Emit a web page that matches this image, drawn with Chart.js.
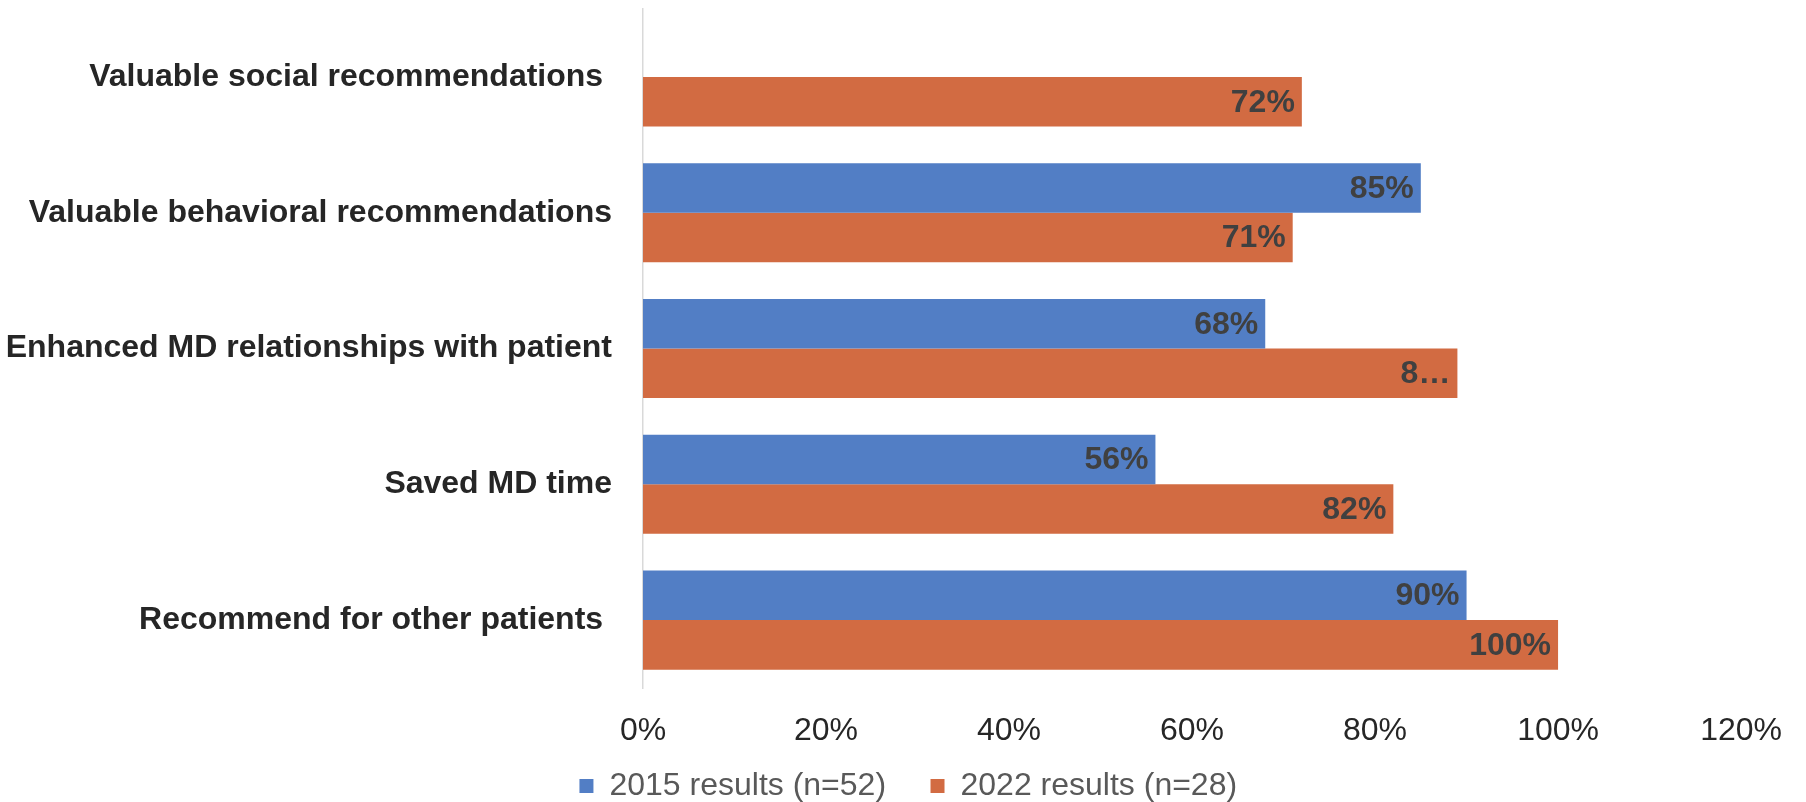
<!DOCTYPE html>
<html lang="en">
<head>
    <meta charset="UTF-8">
    <title>survey_results_chart</title>
    <script src="https://cdn.jsdelivr.net/npm/chart.js"></script>
    <style>
        body {
            margin: 0;
            background: #ffffff;
        }
        #wrap {
            width: 1806px;
            height: 802px;
        }
    </style>
</head>
<body>
    <div id="wrap"><canvas id="surveyChart"></canvas></div>

    <script>
        // data
        const categories = [
            'Valuable social recommendations ',
            'Valuable behavioral recommendations',
            'Enhanced MD relationships with patient',
            'Saved MD time',
            'Recommend for other patients '
        ];
        const results2015 = [null, 85, 68, 56, 90];
        const results2022 = [72, 71, 89, 82, 100];
        const labels2015 = ['', '85%', '68%', '56%', '90%'];
        const labels2022 = ['72%', '71%', '8…', '82%', '100%'];
        const xTicks = [0, 20, 40, 60, 80, 100, 120];

        const FONT = '"Liberation Sans", Arial, sans-serif';

        // value labels at the inner end of each bar
        const barLabels = {
            id: 'barLabels',
            afterDatasetsDraw(chart) {
                const ctx = chart.ctx;
                ctx.save();
                ctx.font = 'bold 32px ' + FONT;
                ctx.fillStyle = '#404040';
                ctx.textAlign = 'right';
                ctx.textBaseline = 'middle';
                [labels2015, labels2022].forEach((texts, d) => {
                    chart.getDatasetMeta(d).data.forEach((bar, i) => {
                        if (!texts[i]) return;
                        ctx.fillText(texts[i], bar.x - 7, bar.y + 1);
                    });
                });
                ctx.restore();
            }
        };

        const ctx = document.getElementById('surveyChart').getContext('2d');

        new Chart(ctx, {
            type: 'bar',
            data: {
                labels: categories,
                datasets: [{
                    label: '2015 results (n=52)',
                    data: results2015,
                    backgroundColor: '#527ec5',
                    borderWidth: 0
                }, {
                    label: '2022 results (n=28)',
                    data: results2022,
                    backgroundColor: '#d26b42',
                    borderWidth: 0
                }]
            },
            plugins: [barLabels],
            options: {
                indexAxis: 'y',
                responsive: true,
                maintainAspectRatio: false,
                animation: false,
                categoryPercentage: 0.73,
                barPercentage: 1,
                layout: {
                    padding: { top: 9, right: 55, left: 0, bottom: -10 }
                },
                plugins: {
                    tooltip: { enabled: false },
                    legend: {
                        position: 'bottom',
                        labels: {
                            font: { family: FONT, size: 32, lineHeight: 1 },
                            color: '#595959',
                            boxWidth: 14,
                            boxHeight: 14,
                            padding: 0,
                            generateLabels(chart) {
                                const items = Chart.defaults.plugins.legend.labels.generateLabels(chart);
                                items[0].text += '     ';
                                // invisible spacer so the legend sits under the plot like the original
                                items.unshift({
                                    text: '    ',
                                    fillStyle: 'rgba(0,0,0,0)',
                                    strokeStyle: 'rgba(0,0,0,0)',
                                    lineWidth: 0,
                                    hidden: false,
                                    datasetIndex: -1
                                });
                                return items;
                            }
                        }
                    }
                },
                scales: {
                    x: {
                        min: 0,
                        max: 120,
                        afterBuildTicks: (scale) => {
                            scale.ticks = xTicks.map(v => ({ value: v }));
                        },
                        afterFit: (scale) => {
                            scale.height = 82;
                        },
                        grid: { display: false, drawTicks: false },
                        border: { display: false },
                        ticks: {
                            padding: 24,
                            color: '#262626',
                            font: { family: FONT, size: 32 },
                            callback: (v) => v + '%'
                        }
                    },
                    y: {
                        afterFit: (scale) => {
                            scale.width = 643;
                            scale.paddingTop = 0;
                            scale.paddingBottom = 0;
                        },
                        grid: { display: false, drawTicks: false },
                        border: { display: true, color: '#d9d9d9', width: 1.5 },
                        ticks: {
                            padding: 31,
                            color: '#262626',
                            font: { family: FONT, size: 32, weight: 'bold' }
                        }
                    }
                }
            }
        });
    </script>
</body>
</html>
